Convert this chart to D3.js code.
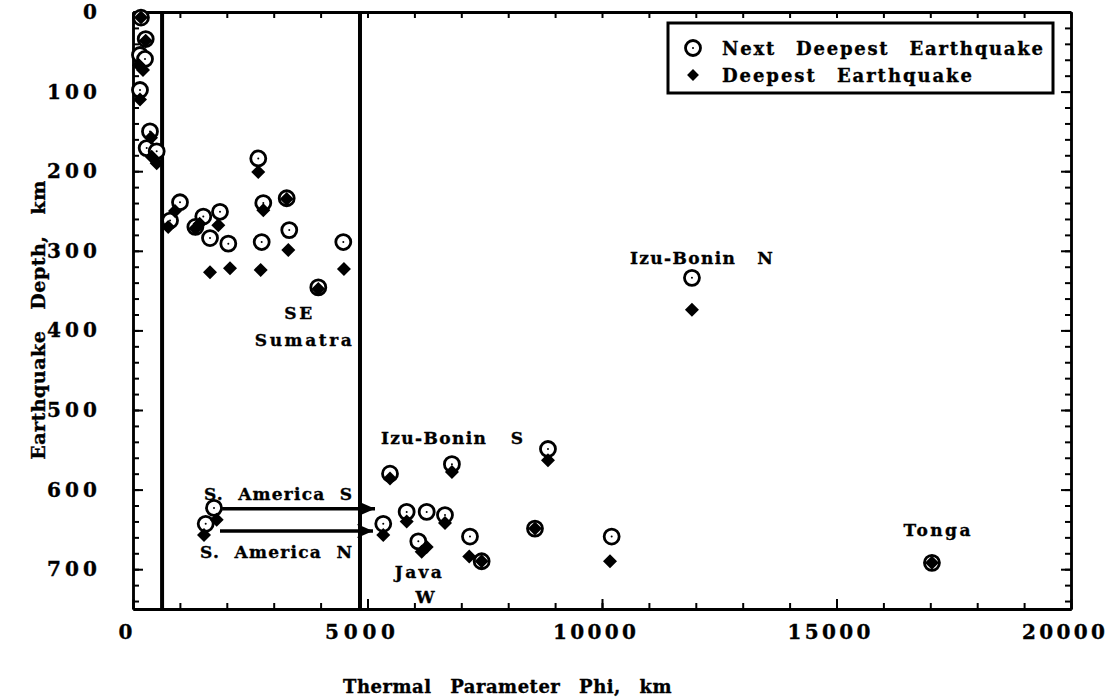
<!DOCTYPE html>
<html>
<head>
<meta charset="utf-8">
<script src="https://cdn.jsdelivr.net/npm/d3@7"></script>
<style>
  body { margin: 0; background: #fff; }
  text { font-family: "DejaVu Serif", serif; font-weight: bold; fill: #000; stroke: #000; stroke-width: 0.35px; }
</style>
</head>
<body>
<div id="chart"></div>
<script>
// data: [thermal parameter phi (km), depth (km)]
const nextDeepest = [
  [170, 7], [271, 34], [149, 54], [256, 59], [149, 98], [362, 150], [292, 171], [505, 175],
  [1002, 239], [790, 262], [1499, 257], [1855, 251], [1330, 270], [1642, 284], [2032, 291],
  [2744, 289], [3332, 274], [4484, 289], [3951, 346], [2671, 184], [2778, 240], [3277, 234],
  [1727, 623], [1550, 643], [5336, 643], [5835, 628], [6262, 628], [6083, 665], [6652, 632],
  [7185, 659], [7434, 690], [8571, 649], [8848, 549], [10206, 659], [11918, 334], [17035, 692],
  [5480, 580], [6800, 568]
]
const deepest = [
  [170, 7], [271, 36], [128, 67], [213, 73], [149, 110], [384, 158], [399, 182], [505, 190],
  [895, 250], [750, 270], [1420, 266], [1819, 268], [1330, 272], [1642, 327], [2068, 322],
  [2722, 324], [3311, 299], [4498, 323], [3951, 348], [2671, 201], [2778, 249], [3277, 235],
  [1784, 638], [1514, 657], [5336, 657], [5835, 640], [6262, 672], [6155, 678], [6652, 642],
  [7170, 684], [7434, 690], [8571, 649], [8848, 563], [10170, 690], [11918, 374], [17035, 692],
  [5480, 586], [6800, 578]
]
const phiLines = [620, 4840]
const xTickLabels = [0, 5000, 10000, 15000, 20000]
const yTickLabels = [0, 100, 200, 300, 400, 500, 600, 700]
// [text, phi, depth, text length]
const annotations = [
  ["Izu-Bonin", 11715, 309, 105], ["N", 13474, 309, 0],
  ["Izu-Bonin", 6407, 535, 105], ["S", 8187, 535, 0],
  ["SE", 3524, 378, 28], ["Sumatra", 3631, 412, 97],
  ["S.  America  S", 3091, 605, 148], ["S.  America  N", 3049, 678, 152],
  ["Java", 6083, 703, 47], ["W", 6225, 735, 0],
  ["Tonga", 17141, 651, 67]
]
const arrows = [
  [[1900, 624], [5160, 624]],
  [[1855, 652], [5117, 652]]
]

const width = 1108, height = 697
const x = d3.scaleLinear().domain([0, 20000]).range([133, 1071])
const y = d3.scaleLinear().domain([0, 750]).range([12, 609])

const svg = d3.select("#chart").append("svg")
  .attr("width", width)
  .attr("height", height)

svg.append("defs").append("marker")
  .attr("id", "head")
  .attr("markerUnits", "userSpaceOnUse")
  .attr("markerWidth", 18).attr("markerHeight", 14)
  .attr("refX", 16).attr("refY", 7)
  .attr("orient", "auto")
  .append("path")
  .attr("d", "M0,0 L16,7 L0,14 L4,7 Z")
  .attr("fill", "#000")

const xMinor = d3.range(0, 20001, 1000)
const yMinor = d3.range(0, 751, 20)

function styleAxis(g, w) {
  g.select(".domain").attr("stroke", "#000").attr("stroke-width", w)
  g.selectAll(".tick line").attr("stroke", "#000").attr("stroke-width", 2)
}

// bottom
svg.append("g").attr("transform", `translate(0,${y(750)})`)
  .call(d3.axisBottom(x).tickValues(xMinor).tickSize(-6).tickSizeOuter(0).tickFormat(""))
  .call(g => styleAxis(g, 3))
const bottom = svg.append("g").attr("transform", `translate(0,${y(750)})`)
  .call(d3.axisBottom(x).tickValues(xTickLabels).tickSize(-10).tickSizeOuter(0).tickPadding(16).tickFormat(d3.format("d")))
  .call(g => styleAxis(g, 3))
bottom.selectAll(".tick text")
  .attr("font-size", 20).attr("font-family", null).attr("dx", -8)
  .each(function (d) { if (d > 0) d3.select(this).attr("textLength", d >= 10000 ? 83 : 70).attr("lengthAdjust", "spacing") })

// top
svg.append("g").attr("transform", `translate(0,${y(0)})`)
  .call(d3.axisTop(x).tickValues(xMinor).tickSize(-6).tickSizeOuter(0).tickFormat(""))
  .call(g => styleAxis(g, 3))

// left
svg.append("g").attr("transform", `translate(${x(0)},0)`)
  .call(d3.axisLeft(y).tickValues(yMinor).tickSize(-6).tickSizeOuter(0).tickFormat(""))
  .call(g => styleAxis(g, 2.5))
const left = svg.append("g").attr("transform", `translate(${x(0)},0)`)
  .call(d3.axisLeft(y).tickValues(yTickLabels).tickSize(-10).tickSizeOuter(0).tickPadding(36))
  .call(g => styleAxis(g, 2.5))
left.selectAll(".tick text")
  .attr("font-size", 20).attr("font-family", null)
  .each(function (d) { if (d > 0) d3.select(this).attr("textLength", 50).attr("lengthAdjust", "spacing") })

// right
svg.append("g").attr("transform", `translate(${x(20000)},0)`)
  .call(d3.axisRight(y).tickValues(yMinor).tickSize(-6).tickSizeOuter(0).tickFormat(""))
  .call(g => styleAxis(g, 2.5))
svg.append("g").attr("transform", `translate(${x(20000)},0)`)
  .call(d3.axisRight(y).tickValues(yTickLabels).tickSize(-10).tickSizeOuter(0).tickFormat(""))
  .call(g => styleAxis(g, 2.5))

// axis titles
svg.append("text")
  .attr("x", 343).attr("y", 686)
  .attr("dominant-baseline", "central")
  .attr("font-size", 18)
  .style("letter-spacing", "0.5px").style("word-spacing", "12px")
  .text("Thermal Parameter Phi, km")
svg.append("text")
  .attr("transform", "translate(38,320) rotate(-90)")
  .attr("text-anchor", "middle").attr("dominant-baseline", "central")
  .attr("font-size", 19)
  .style("letter-spacing", "0.5px").style("word-spacing", "14px")
  .text("Earthquake Depth, km")

// vertical boundary lines
svg.selectAll(".phi-line")
  .data(phiLines)
  .enter().append("line")
  .attr("class", "phi-line")
  .attr("x1", d => x(d)).attr("x2", d => x(d))
  .attr("y1", y(0)).attr("y2", y(750))
  .attr("stroke", "#000").attr("stroke-width", 4)

// next deepest: open circles
const circ = svg.selectAll(".next")
  .data(nextDeepest)
  .enter().append("g")
  .attr("class", "next")
  .attr("transform", d => `translate(${x(d[0])},${y(d[1])})`)
circ.append("circle").attr("r", 7.5).attr("fill", "#fff").attr("stroke", "#000").attr("stroke-width", 2.8)
circ.append("circle").attr("r", 1).attr("fill", "#000")

// deepest: filled diamonds
const diamond = d3.symbol(d3.symbolSquare, 98)
svg.selectAll(".deep")
  .data(deepest)
  .enter().append("path")
  .attr("class", "deep")
  .attr("d", diamond)
  .attr("transform", d => `translate(${x(d[0])},${y(d[1])}) rotate(45)`)
  .attr("fill", "#000")

// arrows
svg.selectAll(".arrow")
  .data(arrows)
  .enter().append("line")
  .attr("class", "arrow")
  .attr("x1", d => x(d[0][0])).attr("y1", d => y(d[0][1]))
  .attr("x2", d => x(d[1][0])).attr("y2", d => y(d[1][1]))
  .attr("stroke", "#000").attr("stroke-width", 3.5)
  .attr("marker-end", "url(#head)")

// annotations
svg.selectAll(".note")
  .data(annotations)
  .enter().append("text")
  .attr("class", "note")
  .attr("x", d => x(d[1])).attr("y", d => y(d[2]))
  .attr("text-anchor", "middle").attr("dominant-baseline", "central")
  .attr("font-size", 17)
  .style("white-space", "pre")
  .each(function (d) { if (d[3]) d3.select(this).attr("textLength", d[3]).attr("lengthAdjust", "spacing") })
  .text(d => d[0])

// legend
const legend = svg.append("g")
legend.append("rect")
  .attr("x", 668).attr("y", 23).attr("width", 385).attr("height", 70)
  .attr("fill", "#fff").attr("stroke", "#000").attr("stroke-width", 3)
const l1 = legend.append("g").attr("transform", "translate(693,48)")
l1.append("circle").attr("r", 7.5).attr("fill", "#fff").attr("stroke", "#000").attr("stroke-width", 2.8)
l1.append("circle").attr("r", 1).attr("fill", "#000")
legend.append("path").attr("d", diamond).attr("transform", "translate(693,75) rotate(45) scale(0.85)")
legend.append("text")
  .attr("x", 722).attr("y", 48).attr("dominant-baseline", "central").attr("font-size", 18)
  .style("word-spacing", "12px")
  .attr("textLength", 321).attr("lengthAdjust", "spacing")
  .text("Next Deepest Earthquake")
legend.append("text")
  .attr("x", 722).attr("y", 75).attr("dominant-baseline", "central").attr("font-size", 18)
  .style("word-spacing", "12px")
  .attr("textLength", 250).attr("lengthAdjust", "spacing")
  .text("Deepest Earthquake")
</script>
</body>
</html>
